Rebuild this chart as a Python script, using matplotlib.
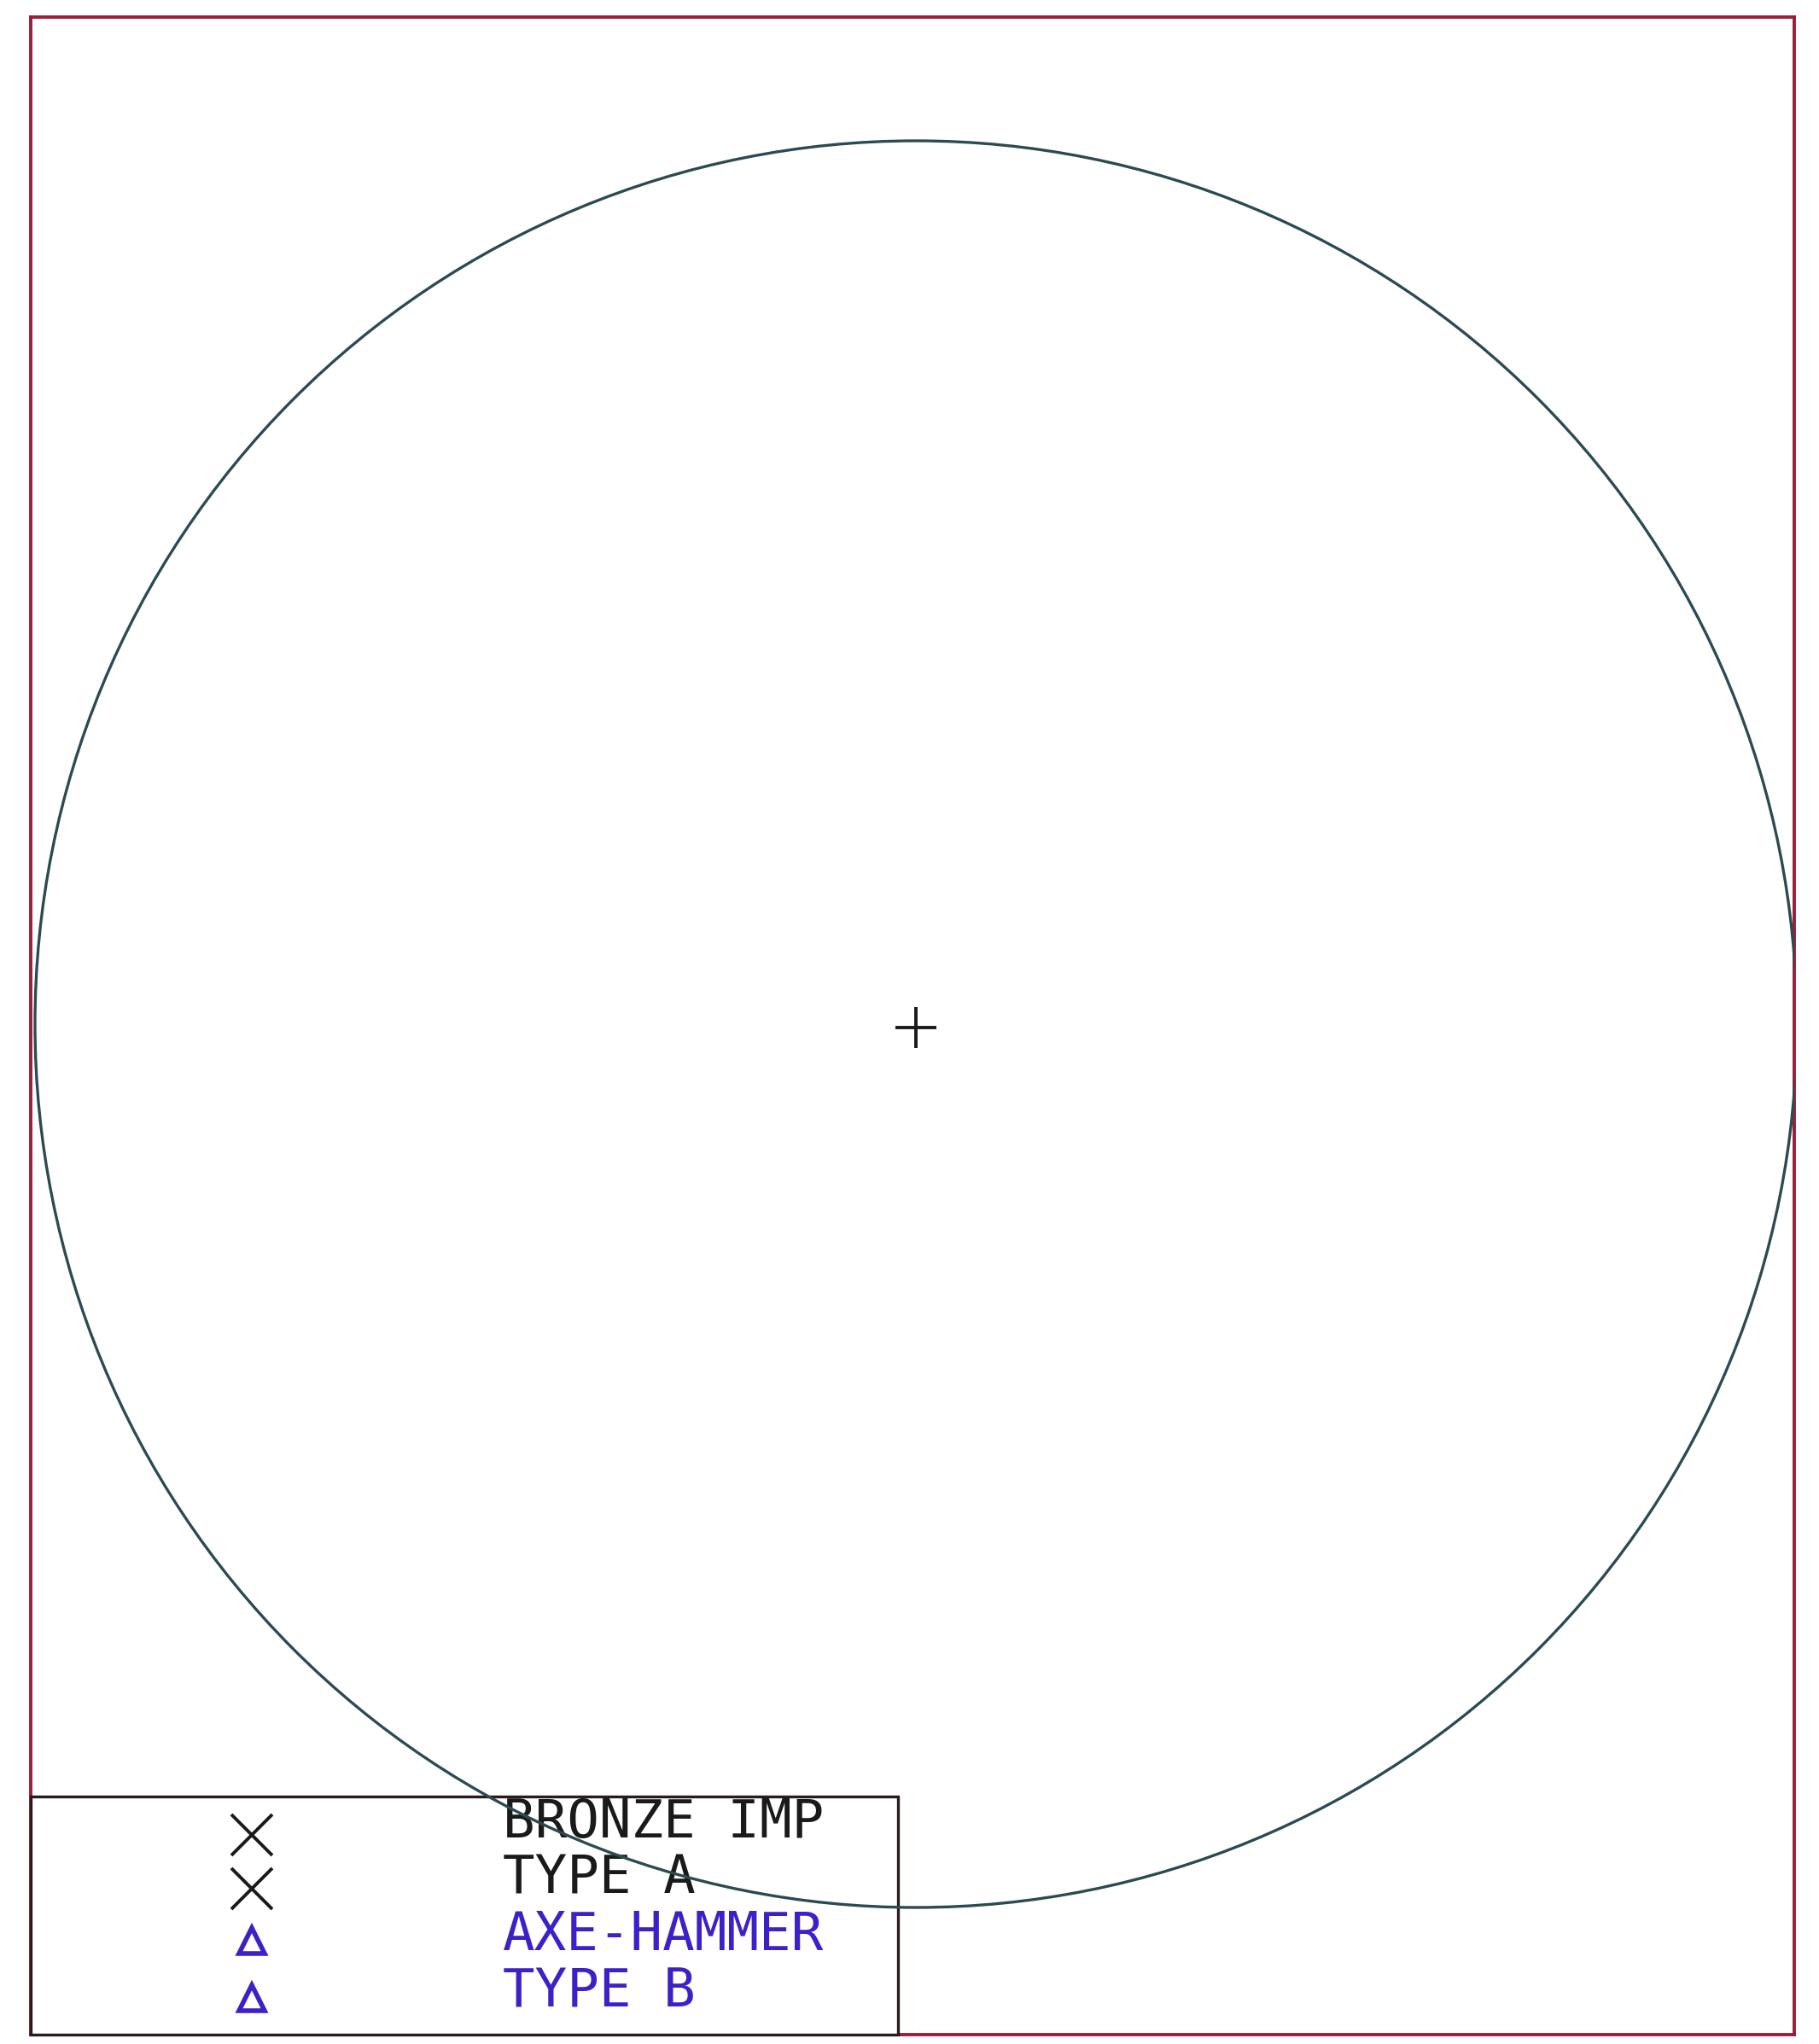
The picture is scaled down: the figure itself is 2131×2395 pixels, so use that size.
import matplotlib
matplotlib.use("Agg")
import matplotlib.pyplot as plt
import numpy as np
from matplotlib.patches import Ellipse, Rectangle

# Group centroid and radius of the enclosing circle (unit scale)
centroid_x = [0.0]
centroid_y = [0.0]
circle_radius = [1.0]

# Legend entries: marker, label, colour
legend_labels = ["BRONZE IMP", "TYPE A", "AXE-HAMMER", "TYPE B"]
legend_markers = ["x", "x", "^", "^"]
legend_colors = ["#1a1a1a", "#1a1a1a", "#3a22c8", "#3a22c8"]

W, H = 2131, 2395
fig = plt.figure(figsize=(W / 100, H / 100), dpi=100)
fig.patch.set_facecolor("white")

left_px, right_px, top_px, bottom_px = 36, 2102, 20, 2384
ax = fig.add_axes([left_px / W, 1 - bottom_px / H,
                   (right_px - left_px) / W, (bottom_px - top_px) / H])
# 1 data unit = circle radius; limits place the circle inside the frame
ax.set_xlim(-(1073 - left_px) / 1032, (right_px - 1073) / 1032)
ax.set_ylim(-(bottom_px - 1200) / 1035, (1200 - top_px) / 1035)
ax.set_xticks([])
ax.set_yticks([])
frame_color = "#9c1d3a"
for sp in ax.spines.values():
    sp.set_color(frame_color)
    sp.set_linewidth(2.8)

circle_color = "#2c4a52"
ax.plot(centroid_x, [c - 0.004 for c in centroid_y], marker="+", markersize=34,
        markeredgewidth=2.8, color="#1a1a1a", linestyle="none", zorder=3)

# Legend box in the lower left corner
box_w = (1052 - left_px) / (right_px - left_px)
ax.add_patch(Rectangle((0.0, 0.0), box_w, 0.118, transform=ax.transAxes,
                       fill=True, facecolor="white", edgecolor="#2a1a1a",
                       linewidth=2.4, zorder=4, clip_on=False))
marker_x = (295 - left_px) / (right_px - left_px)
text_x = (589 - left_px) / (right_px - left_px)
marker_rows = [0.0990, 0.0723, 0.0465, 0.0182]
text_rows = [0.1048, 0.0770, 0.0491, 0.0208]
for lbl, mk, col, my, ty in zip(legend_labels, legend_markers, legend_colors,
                                marker_rows, text_rows):
    if mk == "x":
        ax.plot([marker_x], [my], marker="x", markersize=34, markeredgewidth=2.8,
                color=col, transform=ax.transAxes, zorder=5, linestyle="none",
                clip_on=False)
    else:
        ax.plot([marker_x], [my], marker="^", markersize=22, markeredgewidth=4,
                markerfacecolor="none", markeredgecolor=col,
                transform=ax.transAxes, zorder=5, linestyle="none", clip_on=False)
    ax.text(text_x, ty, lbl, transform=ax.transAxes, color=col,
            fontsize=45, family="DejaVu Sans Mono", va="center", ha="left",
            zorder=5)

# The circle passes over the legend box
for cx, cy, r in zip(centroid_x, centroid_y, circle_radius):
    ax.add_patch(Ellipse((cx, cy), 2 * r, 2 * r, fill=False,
                         edgecolor=circle_color, linewidth=2.4, zorder=6))

fig.savefig("out.png", dpi=100, facecolor="white")
